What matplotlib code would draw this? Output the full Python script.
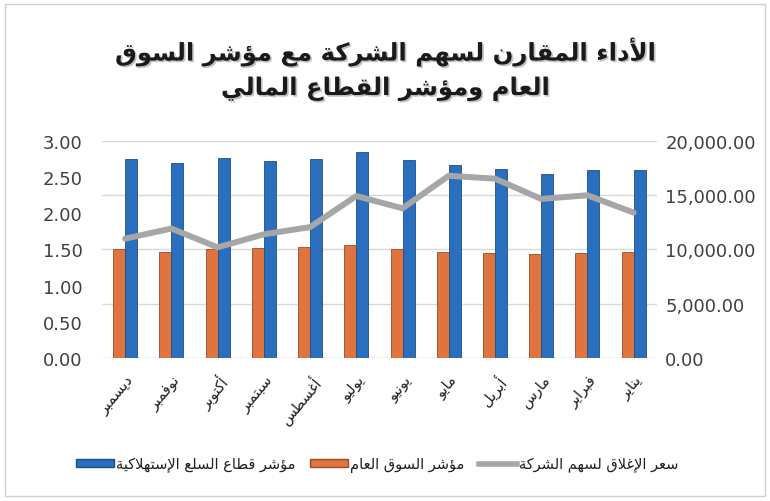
import matplotlib
matplotlib.use("Agg")
import matplotlib.pyplot as plt
import matplotlib.patheffects as path_effects
from matplotlib.patches import Rectangle
from matplotlib.lines import Line2D

# months, January .. December (axis is reversed so January sits on the right)
months = ["يناير", "فبراير", "مارس", "أبريل", "مايو", "يونيو",
          "يوليو", "أغسطس", "سبتمبر", "أكتوبر", "نوفمبر", "ديسمبر"]
sectorIndex = [17350, 17350, 17000, 17450, 17750, 18250,
               18950, 18380, 18200, 18420, 18000, 18380]
marketIndex = [9740, 9690, 9600, 9690, 9780, 10000,
               10420, 10200, 10130, 10000, 9750, 10000]
closePrice = [2.01, 2.25, 2.20, 2.48, 2.52, 2.07,
              2.24, 1.81, 1.71, 1.53, 1.79, 1.65]

titleText = "الأداء المقارن لسهم الشركة مع مؤشر السوق\nالعام ومؤشر القطاع المالي"
sectorLabel = "مؤشر قطاع السلع الإستهلاكية"
marketLabel = "مؤشر السوق العام"
priceLabel = "سعر الإغلاق لسهم الشركة"


# matplotlib has no arabic shaping, so pick presentation forms by hand
_seq = "ءآأؤإئابةتثجحخدذرزسشصضطظعغفقكلمنهوىي"
_cnt = [1, 2, 2, 2, 2, 4, 2, 4, 2, 4, 4, 4, 4, 4, 2, 2, 2, 2, 4, 4, 4, 4,
        4, 4, 4, 4, 4, 4, 4, 4, 4, 4, 4, 2, 2, 4]
FORMS = {}
_code = 0xFE80
for ch, n in zip(_seq, _cnt):
    FORMS[ch] = tuple(_code + i for i in range(n))
    _code += n
LAMALEF = {"آ": 0xFEF5, "أ": 0xFEF7, "إ": 0xFEF9, "ا": 0xFEFB}


def shape(text):
    units = []
    i = 0
    while i < len(text):
        ch = text[i]
        if ch == "ل" and i + 1 < len(text) and text[i + 1] in LAMALEF:
            c = LAMALEF[text[i + 1]]
            units.append((c, c + 1))
            i += 2
            continue
        units.append(FORMS.get(ch, ch))
        i += 1
    out = []
    for k, u in enumerate(units):
        if isinstance(u, str):
            out.append(u)
            continue
        prev = units[k - 1] if k > 0 else None
        nxt = units[k + 1] if k + 1 < len(units) else None
        joinPrev = isinstance(prev, tuple) and len(prev) == 4
        joinNext = len(u) == 4 and isinstance(nxt, tuple) and len(nxt) > 1
        if joinPrev and joinNext:
            c = u[3]
        elif joinNext:
            c = u[2]
        elif joinPrev and len(u) > 1:
            c = u[1]
        else:
            c = u[0]
        out.append(chr(c))
    return "".join(out)[::-1]


def ar(text):
    return "\n".join(shape(line) for line in text.split("\n"))


plt.rcParams["font.family"] = ["DejaVu Sans"]

fig = plt.figure(figsize=(7.7, 5.02), dpi=100)
ax = fig.add_axes([0.1325, 0.285, 0.7205, 0.432])
ax2 = ax.twinx()

x = list(range(len(months)))
w = 0.26
blue = "#2a6fbd"
orange = "#e0743f"
grey = "#a6a6a6"
textColor = "#404040"

ax.bar([i + w / 2 for i in x], marketIndex, width=w, color=orange,
       edgecolor="#9a4a25", linewidth=0.6, zorder=2)
ax.bar([i - w / 2 for i in x], sectorIndex, width=w, color=blue,
       edgecolor="#1d4f88", linewidth=0.6, zorder=2)
ax2.plot(x, closePrice, color=grey, linewidth=4.3, solid_capstyle="round",
         solid_joinstyle="round", zorder=3)

ax.set_ylim(0, 20000)
ax.set_yticks([0, 5000, 10000, 15000, 20000])
ax.set_yticklabels([f"{v:,.2f}" for v in [0, 5000, 10000, 15000, 20000]])
ax2.set_ylim(0, 3)
ax2.set_yticks([0, 0.5, 1, 1.5, 2, 2.5, 3])
ax2.set_yticklabels([f"{v:.2f}" for v in [0, 0.5, 1, 1.5, 2, 2.5, 3]])

ax.yaxis.tick_right()
ax2.yaxis.tick_left()
ax.set_xlim(-0.5, len(months) - 0.5)
ax.invert_xaxis()

ax.grid(axis="y", color="#d9d9d9", linewidth=1, zorder=0)
ax.set_axisbelow(True)

for a in (ax, ax2):
    for s in a.spines.values():
        s.set_visible(False)
    a.tick_params(axis="both", length=0, colors=textColor, labelsize=13)
ax.tick_params(axis="y", pad=6)
ax2.tick_params(axis="y", pad=14)

ax.set_xticks(x)
ax.set_xticklabels([shape(m) for m in months], rotation=50, ha="right",
                   rotation_mode="anchor", fontsize=10.5, color="#202020")
ax.tick_params(axis="x", pad=10)
ax.axhline(0, color="#d9d9d9", linewidth=1, zorder=1)

title = fig.text(0.5, 0.86, ar(titleText), ha="center", va="center",
                 fontsize=17.5, fontweight="bold", linespacing=1.5, color="#1a1a1a")
title.set_path_effects([path_effects.withSimplePatchShadow(offset=(1.2, -1.2),
                                                            shadow_rgbFace="#999999",
                                                            alpha=0.6)])

# legend reads left to right: sector, market, price, each box left of its text
handles = [
    Rectangle((0, 0), 1, 1, facecolor=blue, edgecolor="#1d4f88"),
    Rectangle((0, 0), 1, 1, facecolor=orange, edgecolor="#9a4a25"),
    Line2D([], [], color=grey, linewidth=4),
]
labels = [shape(sectorLabel), shape(marketLabel), shape(priceLabel)]
fig.legend(handles, labels, loc="center", bbox_to_anchor=(0.49, 0.073), ncol=3,
           frameon=False, markerfirst=True, fontsize=10.5, handlelength=2.6,
           handleheight=0.45, handletextpad=0.15, columnspacing=1.0,
           labelcolor="#202020")

fig.patches.append(Rectangle((0.006, 0.01), 0.988, 0.98, transform=fig.transFigure,
                             fill=False, edgecolor="#d0d0d0", linewidth=1))

fig.savefig("out.png", dpi=100)
